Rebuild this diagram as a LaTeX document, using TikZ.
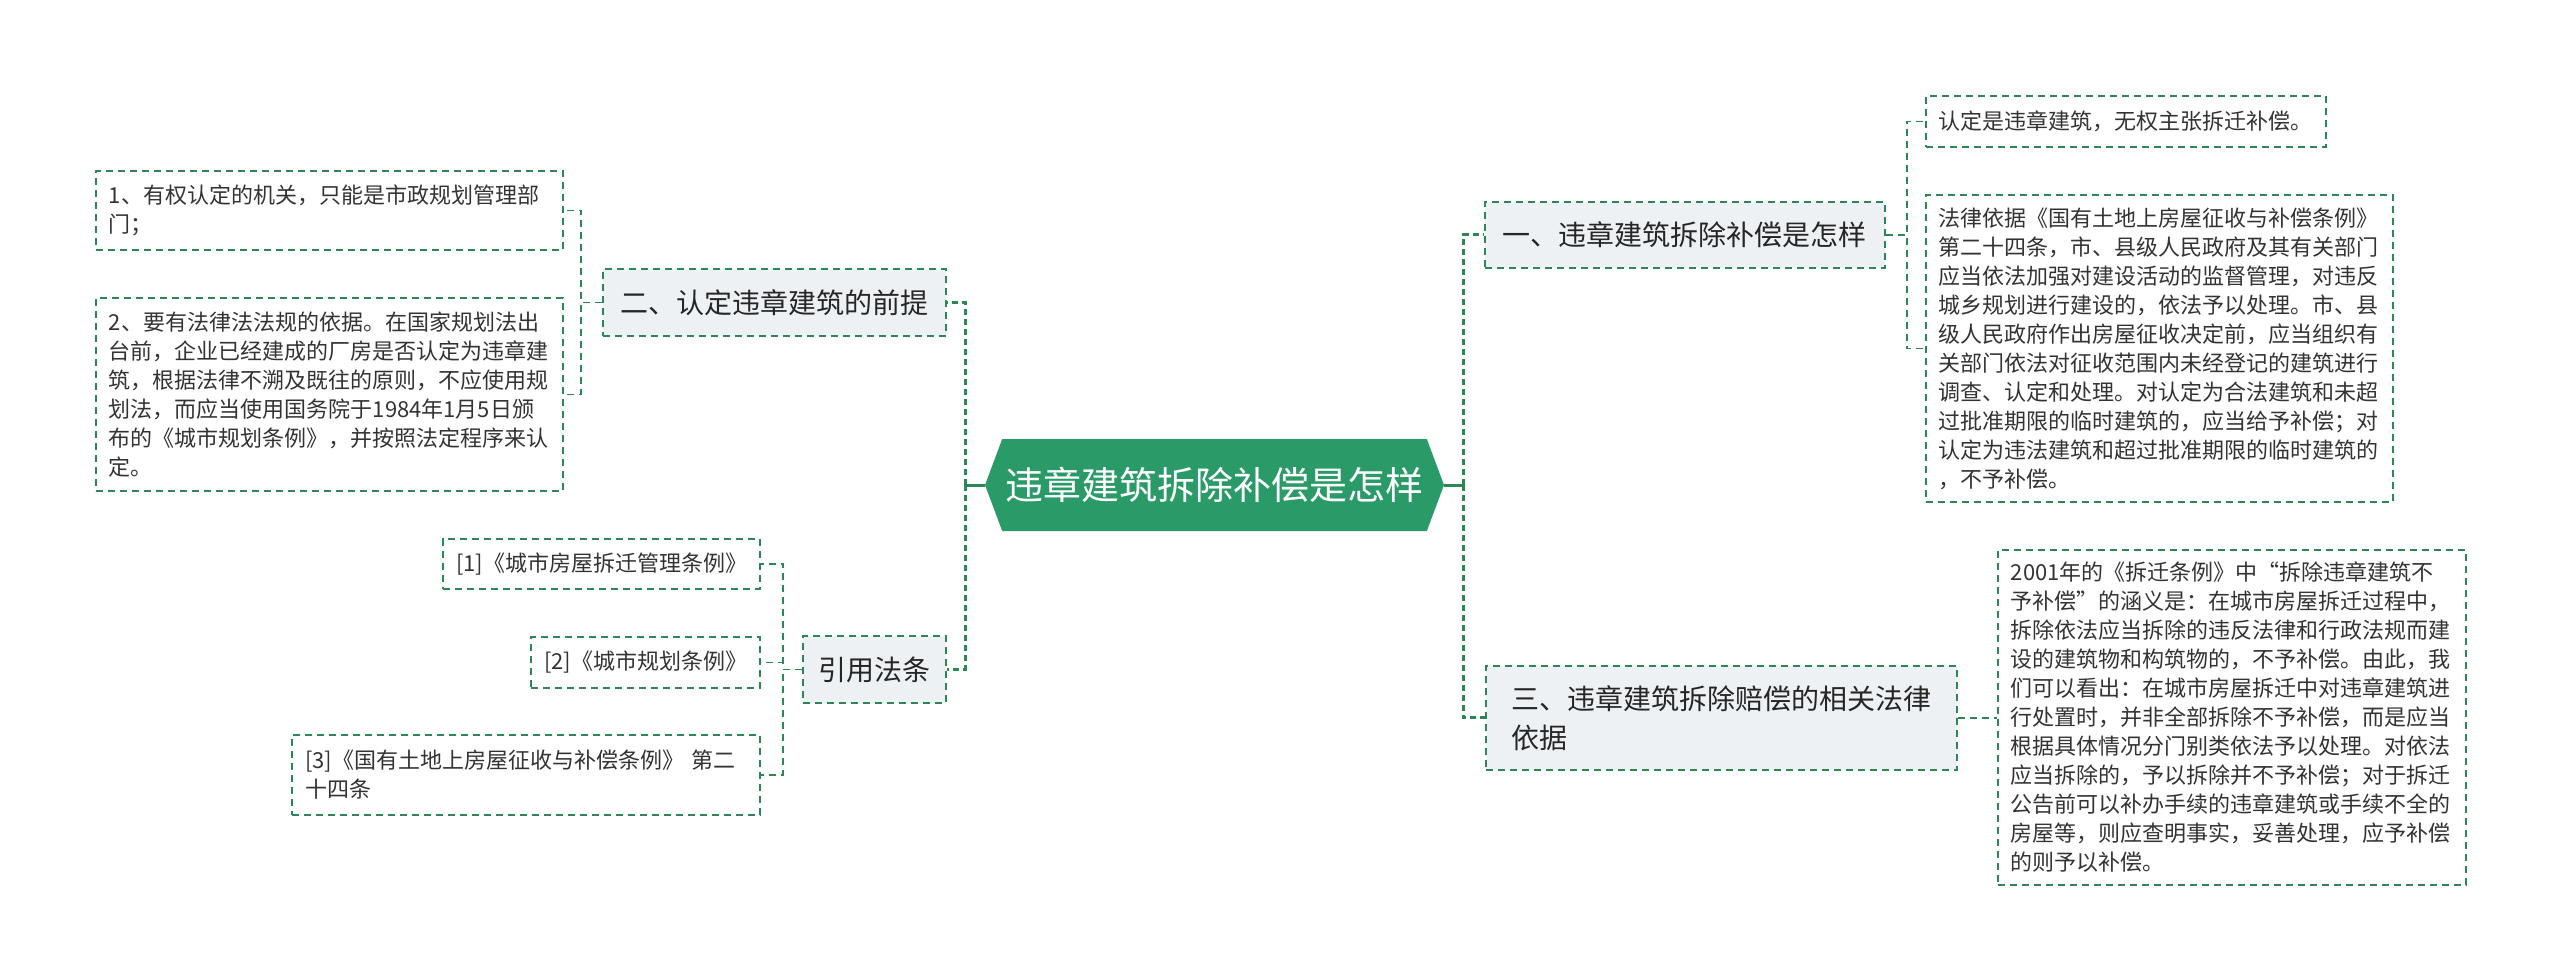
\documentclass[tikz,border=0pt]{standalone}
\usepackage{fontspec}
\newfontfamily\cjk{Noto Sans CJK SC}
\usetikzlibrary{shapes.symbols}
\definecolor{lineG}{HTML}{2B8756}
\definecolor{rootFill}{HTML}{2A9B68}
\definecolor{grayF}{HTML}{EEF1F4}
\definecolor{txt}{HTML}{333333}
\tikzset{
  boxdash/.style={draw=lineG, line width=0.9pt, dash pattern=on 3.5pt off 2.5pt},
  leaf/.style={boxdash, fill=white, text=txt, font=\cjk\fontsize{11}{14.5}\selectfont,
    align=left, inner xsep=6.5pt, inner ysep=0pt, anchor=north west},
  topic/.style={boxdash, fill=grayF, text=black!85, font=\cjk\fontsize{14}{19.5}\selectfont,
    align=left, inner xsep=7.5pt, inner ysep=0pt, anchor=north west},
  rootnode/.style={shape=signal, signal to=west and east, signal from=nowhere,
    signal pointer angle=139, fill=rootFill, text=white,
    font=\cjk\fontsize{19}{23}\selectfont, inner sep=0pt,
    minimum width=229.5pt, minimum height=46pt},
  conn/.style={draw=lineG, line width=0.9pt, dash pattern=on 3.5pt off 2.5pt},
  trunk/.style={draw=lineG, line width=1.5pt, dash pattern=on 3pt off 2pt},
  trunkstub/.style={draw=lineG, line width=1.5pt}
}
\begin{document}
\begin{tikzpicture}[x=0.5pt,y=-0.5pt]
\useasboundingbox[fill=white] (0,0) rectangle (2560,980);

% root
\node[rootnode] (root) at (1214.5,485) {违章建筑拆除补偿是怎样};

% left topics
\node[topic, minimum width=171.5pt, minimum height=33.5pt] (t2) at (602,268) {二、认定违章建筑的前提};
\node[topic, minimum width=71.5pt, minimum height=33.5pt] (t4) at (802,635) {引用法条};

% left leaves
\node[leaf, text width=220.5pt, minimum height=39.5pt] (l1) at (95,170)
  {1、有权认定的机关，只能是市政规划管理部\\门；};
\node[leaf, text width=220.5pt, minimum height=96.5pt] (l2) at (95,297)
  {2、要有法律法法规的依据。在国家规划法出\\台前，企业已经建成的厂房是否认定为违章建\\筑，根据法律不溯及既往的原则，不应使用规\\划法，而应当使用国务院于1984年1月5日颁\\布的《城市规划条例》，并按照法定程序来认\\定。};

\node[leaf, anchor=north east, minimum height=25pt] (ref1) at (761,538) {[1]《城市房屋拆迁管理条例》};
\node[leaf, anchor=north east, minimum height=25.5pt] (ref2) at (761,636) {[2]《城市规划条例》};
\node[leaf, anchor=north east, text width=221pt, minimum height=40pt] (ref3) at (761,734)
  {[3]《国有土地上房屋征收与补偿条例》 第二\\十四条};

% right topics
\node[topic, minimum width=200pt, minimum height=33pt] (t1) at (1484,201) {一、违章建筑拆除补偿是怎样};
\node[topic, minimum width=235.5pt, minimum height=52pt] (t3) at (1485,665) {三、违章建筑拆除赔偿的相关法律\\依据};

% right leaves
\node[leaf, minimum width=200pt, minimum height=25.5pt] (r1) at (1925,95) {认定是违章建筑，无权主张拆迁补偿。};
\node[leaf, text width=220.5pt, minimum height=153.5pt] (r2) at (1925,194)
  {法律依据《国有土地上房屋征收与补偿条例》\\第二十四条，市、县级人民政府及其有关部门\\应当依法加强对建设活动的监督管理，对违反\\城乡规划进行建设的，依法予以处理。市、县\\级人民政府作出房屋征收决定前，应当组织有\\关部门依法对征收范围内未经登记的建筑进行\\调查、认定和处理。对认定为合法建筑和未超\\过批准期限的临时建筑的，应当给予补偿；对\\认定为违法建筑和超过批准期限的临时建筑的\\，不予补偿。};
\node[leaf, text width=221pt, minimum height=167.5pt] (r3) at (1997,549)
  {2001年的《拆迁条例》中“拆除违章建筑不\\予补偿”的涵义是：在城市房屋拆迁过程中，\\拆除依法应当拆除的违反法律和行政法规而建\\设的建筑物和构筑物的，不予补偿。由此，我\\们可以看出：在城市房屋拆迁中对违章建筑进\\行处置时，并非全部拆除不予补偿，而是应当\\根据具体情况分门别类依法予以处理。对依法\\应当拆除的，予以拆除并不予补偿；对于拆迁\\公告前可以补办手续的违章建筑或手续不全的\\房屋等，则应查明事实，妥善处理，应予补偿\\的则予以补偿。};

% trunks
\coordinate (LT) at (965,485);
\coordinate (RT) at (1463,485);
\draw[trunkstub] (root.west) -- (LT);
\draw[trunkstub] (root.east) -- (RT);
\draw[trunk] (LT) |- (t2.east);
\draw[trunk] (LT) |- (t4.east);
\draw[trunk] (RT) |- (t1.west);
\draw[trunk] (RT) |- (t3.west);

% brackets
\draw[conn] (t2.west) -- ++(-21,0) |- (l1.east);
\draw[conn] (t2.west) -- ++(-21,0) |- (l2.east);
\draw[conn] (t4.west) -- ++(-19,0) |- (ref1.east);
\draw[conn] (t4.west) -- ++(-19,0) |- (ref2.east);
\draw[conn] (t4.west) -- ++(-19,0) |- (ref3.east);
\draw[conn] (t1.east) -- ++(21,0) |- (r1.west);
\draw[conn] (t1.east) -- ++(21,0) |- (r2.west);
\draw[conn] (t3.east) -- (t3.east -| r3.west);
\end{tikzpicture}
\end{document}
